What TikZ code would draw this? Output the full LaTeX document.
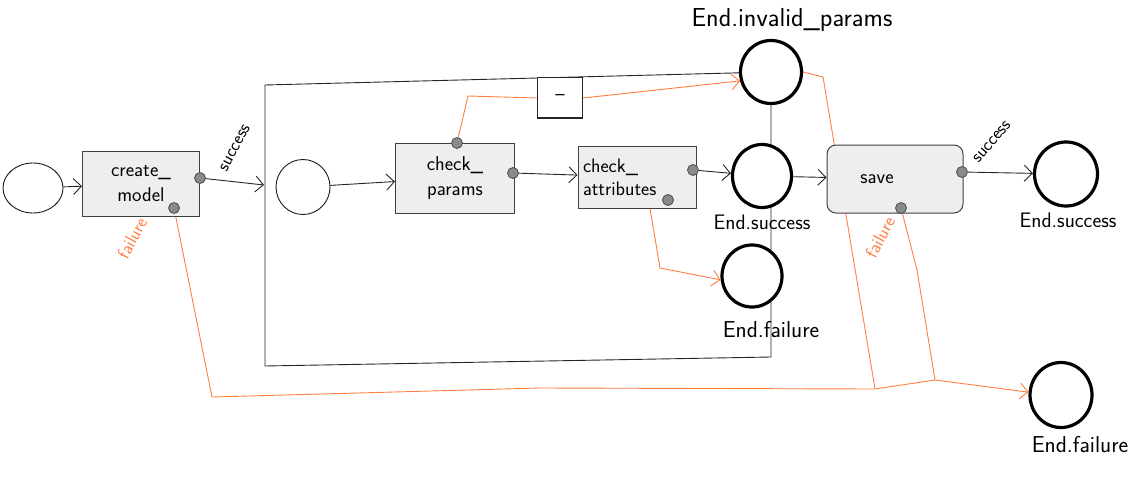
\documentclass[tikz,border=0pt]{standalone}
\usepackage{fontspec}
\usetikzlibrary{arrows.meta,shapes.geometric,backgrounds,calc}
\definecolor{flowor}{HTML}{FF7F40}
\definecolor{boxfill}{HTML}{EEEEEE}
\definecolor{portfill}{HTML}{8A8A8A}
\begin{document}
\begin{tikzpicture}[x=1pt,y=-1pt,
  font=\sffamily,
  taskbox/.style={draw=black!75, fill=boxfill, line width=1pt, align=center,
     inner sep=0pt, font=\sffamily\fontsize{20}{25}\selectfont},
  startev/.style={ellipse, draw=black!90, line width=0.9pt, fill=white, inner sep=0pt},
  endev/.style={ellipse, draw=black, line width=3.2pt, fill=white, inner sep=0pt},
  port/.style={circle, draw=black!70, fill=portfill, minimum size=11pt, inner sep=0pt, line width=0.8pt},
  flow/.style={draw=black!85, line width=0.9pt, -{Straight Barb[length=8pt,width=16pt,line width=0.9pt]}},
  failflow/.style={draw=flowor, line width=0.9pt, -{Straight Barb[length=8pt,width=16pt,line width=0.9pt]}},
  failline/.style={draw=flowor, line width=0.9pt},
  lbl/.style={font=\sffamily\fontsize{21}{24}\selectfont, inner sep=0pt},
  biglbl/.style={font=\sffamily\fontsize{23}{26}\selectfont, inner sep=0pt},
  portlbl/.style={font=\sffamily\fontsize{18}{20}\selectfont, inner sep=0pt}]
\useasboundingbox (0,0) rectangle (1139,476);

% start events
\node[startev, minimum width=60pt, minimum height=50pt] (s0) at (33,188) {};
\node[startev, minimum width=54pt, minimum height=55pt] (s1) at (303,187) {};

% tasks
\node[taskbox, minimum width=117pt, minimum height=65pt] (cm) at (141,184) {create\_\\model};
\node[taskbox, minimum width=119pt, minimum height=70pt] (cp) at (455,178) {check\_\\params};
\node[taskbox, minimum width=118pt, minimum height=62pt, text width=108pt, align=left,
      font=\sffamily\fontsize{19.5}{23}\selectfont] (ca) at (637,177) {check\_\\attributes};
\node[taskbox, rounded corners=9pt, minimum width=136pt, minimum height=68pt] (sv) at (895,179) {save\hspace*{36pt}};
\node[draw=black!85, fill=white, line width=1pt, minimum width=45pt, minimum height=40pt,
      font=\sffamily\fontsize{20}{24}\selectfont] (dash) at (560,98) {--};

% end events
\node[endev, minimum width=61pt, minimum height=63pt] (einv) at (771,72) {};
\node[endev, minimum width=59pt, minimum height=63pt] (esi) at (762,176) {};
\node[endev, minimum width=60pt, minimum height=62pt] (efi) at (752,276) {};
\node[endev, minimum width=63pt, minimum height=64pt] (eso) at (1066,174) {};
\node[endev, minimum width=62pt, minimum height=65pt] (efo) at (1061,395) {};

% end labels
\node[font=\sffamily\fontsize{26}{30}\selectfont, inner sep=0pt] (linv) at (792,20) {End.invalid\_params};
\node[lbl] (lsi) at (762,222) {End.success};
\node[biglbl] (lfi) at (771,330) {End.failure};
\node[lbl] (lso) at (1068,220) {End.success};
\node[biglbl] (lfo) at (1080,445) {End.failure};

% ports
\node[port] (cmS) at (200,178) {};
\node[port] (cmF) at (174,208) {};
\node[port] (cpT) at (457,143) {};
\node[port] (cpR) at (513,173) {};
\node[port] (caR) at (693,170) {};
\node[port] (caB) at (668,200) {};
\node[port] (svR) at (962,172) {};
\node[port] (svB) at (901,208) {};

% port labels
\node[portlbl, rotate=62] (lcmS) at (235,148) {success};
\node[portlbl, rotate=62, text=flowor] (lcmF) at (132,238) {failure};
\node[portlbl, rotate=50] (lsvS) at (992,142) {success};
\node[portlbl, rotate=62, text=flowor] (lsvF) at (880,237) {failure};

% free points
\coordinate (subin) at (264,185);
\coordinate (j1) at (875,389);
\coordinate (j2) at (935,380);

\begin{scope}[on background layer]
  % subprocess container
  \draw[black!85, line width=0.9pt] (265,85) -- (771,72) -- (771,357) -- (265,366) -- cycle;
  % orange failure lines
  \draw[failline] (einv.east) -- (823,77) -- (j1);
  \draw[failline] (svB) -- (917,270) -- (j2);
  \draw[failflow] (cmF) -- (212,397) -- (540,388) -- (j1) -- (j2) -- (efo.175);
  \draw[failline] (cpT) -- (468,96) -- (dash.west);
  \draw[failflow] (dash.east) -- (einv.196);
  \draw[failflow] ([xshift=13pt]ca.south) -- (660,268) -- (efi.187);
\end{scope}

% sequence flows
\draw[flow] (s0) -- (cm);
\draw[flow] (cmS) -- (subin);
\draw[flow] (s1) -- (cp);
\draw[flow] (cpR) -- (ca);
\draw[flow] (caR) -- (esi);
\draw[flow] (esi) -- (sv);
\draw[flow] (svR) -- (eso);
\end{tikzpicture}
\end{document}
